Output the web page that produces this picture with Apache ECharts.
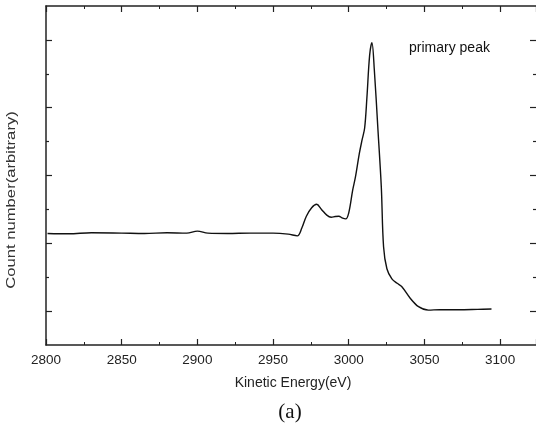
<!DOCTYPE html>
<html>
<head>
<meta charset="utf-8">
<script src="https://cdn.jsdelivr.net/npm/echarts@6/dist/echarts.min.js"></script>
<style>
  html, body { margin: 0; padding: 0; background: #fff; }
  #main { width: 536px; height: 426px; }
</style>
</head>
<body>
<div id="main"></div>
<script>
// 数据：动能 (eV) 与 计数 (任意单位)
const energy = [2801, 2815, 2830, 2850, 2865, 2880, 2893, 2900, 2907, 2920, 2935, 2950, 2960, 2966,
  2969, 2972, 2975.5, 2978.8, 2982, 2985.5, 2988.4, 2991, 2993.4, 2996, 2998, 3000, 3002.6, 3004.4,
  3007, 3008.8, 3010.5, 3012, 3013.8, 3015.3, 3016.9, 3019.3, 3021.5, 3023, 3025.2, 3028.5, 3032,
  3035.1, 3040.6, 3046.1, 3052.6, 3060, 3072.4, 3085, 3094.3]
const counts = [3.29, 3.28, 3.31, 3.30, 3.29, 3.31, 3.30, 3.36, 3.30, 3.29, 3.30, 3.30, 3.27, 3.22,
  3.45, 3.80, 4.05, 4.15, 4.00, 3.83, 3.77, 3.79, 3.80, 3.74, 3.72, 3.90, 4.57, 4.95,
  5.65, 6.05, 6.40, 7.30, 8.55, 8.92, 8.11, 6.34, 4.67, 2.90, 2.25, 1.95, 1.82,
  1.72, 1.38, 1.13, 1.03, 1.04, 1.04, 1.05, 1.06]
const yMajorTicks = [1, 3, 5, 7, 9]
const yMinorTicks = [2, 4, 6, 8]

const axisColor = '#222'
const xMin = 2800
const xMax = 3123.7

const myChart = echarts.init(document.querySelector('#main'))

// x 轴（上下两条）
const xAxisBase = (pos, showLabel) => ({
  type: 'value',
  position: pos,
  min: xMin,
  max: xMax,
  interval: 50,
  axisLine: { show: true, onZero: false, lineStyle: { color: axisColor, width: 1.5 } },
  axisTick: { show: true, inside: true, length: 6, lineStyle: { color: axisColor, width: 1.2 } },
  minorTick: { show: true, splitNumber: 2, length: 3, lineStyle: { color: axisColor, width: 1 } },
  axisLabel: {
    show: showLabel,
    showMaxLabel: false,
    margin: 8,
    color: '#222',
    fontSize: 13.5,
    fontFamily: 'Liberation Sans',
    formatter: v => String(v)
  },
  splitLine: { show: false }
})

// y 轴（主刻度与次刻度分开画）
const yAxisBase = (pos, ticks, len, lineShow) => ({
  type: 'value',
  position: pos,
  min: 0,
  max: 10,
  axisLine: { show: lineShow, onZero: false, lineStyle: { color: axisColor, width: 1.5 } },
  axisTick: { show: true, inside: true, length: len, customValues: ticks, lineStyle: { color: axisColor, width: 1.2 } },
  axisLabel: { show: false },
  splitLine: { show: false }
})

const option = {
  animation: false,
  grid: { left: 46, right: -2, top: 6, bottom: 81 },
  xAxis: [xAxisBase('bottom', true), xAxisBase('top', false)],
  yAxis: [
    yAxisBase('left', yMajorTicks, 6, true),
    yAxisBase('left', yMinorTicks, 3, false),
    yAxisBase('right', yMajorTicks, 6, false),
    yAxisBase('right', yMinorTicks, 3, false)
  ],
  series: [
    {
      type: 'line',
      xAxisIndex: 0,
      yAxisIndex: 0,
      data: energy.map((e, i) => [e, counts[i]]),
      showSymbol: false,
      smooth: 0.35,
      lineStyle: { color: '#111', width: 1.4 }
    }
  ],
  graphic: [
    {
      type: 'text',
      left: 409,
      top: 41,
      style: { text: 'primary peak', fontSize: 14, fontFamily: 'Liberation Sans', fill: '#111' }
    },
    {
      type: 'text',
      x: 11,
      y: 200,
      rotation: Math.PI / 2,
      scaleX: 1.28,
      style: {
        text: 'Count number(arbitrary)',
        fontSize: 13,
        fontFamily: 'Liberation Sans',
        fill: '#333',
        align: 'center',
        verticalAlign: 'middle'
      }
    },
    {
      type: 'text',
      x: 293,
      y: 383,
      style: {
        text: 'Kinetic Energy(eV)',
        fontSize: 14,
        fontFamily: 'Liberation Sans',
        fill: '#222',
        align: 'center',
        verticalAlign: 'middle'
      }
    },
    {
      type: 'text',
      x: 290,
      y: 412,
      style: {
        text: '(a)',
        fontSize: 21,
        fontFamily: 'Liberation Serif',
        fill: '#111',
        align: 'center',
        verticalAlign: 'middle'
      }
    }
  ]
}
myChart.setOption(option)
</script>
</body>
</html>
